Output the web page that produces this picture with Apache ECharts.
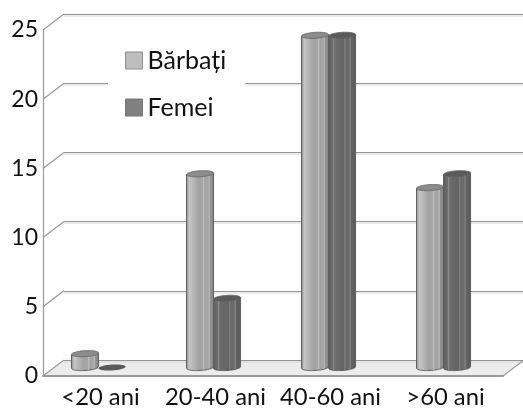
<!DOCTYPE html>
<html><head><meta charset="utf-8">
<style>html,body{margin:0;padding:0;background:#fff}#c{width:523px;height:410px}</style>
<script src="https://cdn.jsdelivr.net/npm/echarts@6/dist/echarts.min.js"></script>
</head><body><div id="c"></div>
<script>
const categories = ['<20 ani','20-40 ani','40-60 ani','>60 ani'];
const barbati = [1,14,24,13];
const femei = [0,5,24,14];
const ticks = [0,5,10,15,20,25];
const DX = 21, DY = -16;
const FONT = 'Lato, "Open Sans", sans-serif';
const chart = echarts.init(document.getElementById('c'), null, {renderer:'canvas'});

function grad(stops){
  return {type:'linear',x:0,y:0,x2:1,y2:0,colorStops:stops.map(s=>({offset:s[0],color:s[1]}))};
}
const menGrad = grad([[0,'#8e8e8e'],[.12,'#c6c6c6'],[.45,'#a2a2a2'],[.6,'#a6a6a6'],[.63,'#c2c2c2'],[.67,'#a2a2a2'],[.8,'#a8a8a8'],[.83,'#bcbcbc'],[.87,'#929292'],[1,'#868686']]);
const womenGrad = grad([[0,'#5c5c5c'],[.16,'#6e6e6e'],[.2,'#8e8e8e'],[.24,'#6c6c6c'],[.55,'#646464'],[.6,'#808080'],[.64,'#666666'],[.76,'#6e6e6e'],[.79,'#8c8c8c'],[.83,'#626262'],[1,'#5a5a5a']]);

function ellipsePts(cx,cy,rx,ry,tilt,from,to){
  const pts=[],n=36;
  for(let i=0;i<=n;i++){
    const a=from+(to-from)*i/n;
    const ex=rx*Math.cos(a), ey=ry*Math.sin(a);
    pts.push([cx+ex, cy+ey+tilt*ex/rx]);
  }
  return pts;
}
function cylinder(which, fill, topFill){
  return function(params, api){
    const cat=api.value(0), v=api.value(1);
    const band=api.size([1,0])[0];
    const w=band*0.2348;
    const c=api.coord([cat,0]);
    const top=api.coord([cat,v]);
    const cx=c[0]-band*0.017+(which===0?-w/2:w/2);
    const yb=c[1]-8.5, yt=top[1]-8.5;
    const rx=w/2, ry=3, tilt=-0.8;
    const children=[];
    if(v>0){
      const body=ellipsePts(cx,yt,rx,0,tilt,Math.PI,0).concat(ellipsePts(cx,yb,rx,ry,tilt,0,Math.PI));
      children.push({type:'polygon',shape:{points:body},style:{fill:fill,stroke:'#5f5f5f',lineWidth:1}});
    }
    children.push({type:'polygon',shape:{points:ellipsePts(cx,yt,rx,ry,tilt,0,Math.PI*2)},style:{fill:topFill,stroke:'#666',lineWidth:v>0?0.8:0}});
    return {type:'group',children};
  };
}
const wallStyle={stroke:'#9a9a9a',lineWidth:1.2};
const option={
  animation:false,
  backgroundColor:'#fff',
  grid:[
    {left:43,right:20,top:30,bottom:34},
    {left:43+DX,right:0,top:30+DY,bottom:34-DY}
  ],
  xAxis:[
    {type:'category',gridIndex:0,data:categories,axisTick:{show:false},
     axisLine:{lineStyle:{color:'#9a9a9a',width:2}},
     axisLabel:{color:'#111',fontFamily:FONT,fontSize:23.8,margin:9,interval:0}},
    {type:'category',gridIndex:1,data:categories,show:false}
  ],
  yAxis:[
    {type:'value',gridIndex:0,min:0,max:25,interval:5,splitLine:{show:false},axisTick:{show:false},
     axisLine:{show:true,lineStyle:{color:'#9a9a9a',width:1.2}},
     axisLabel:{color:'#111',fontFamily:FONT,fontSize:23,margin:5}},
    {type:'value',gridIndex:1,min:0,max:25,interval:5,axisLabel:{show:false},axisTick:{show:false},axisLine:{show:false},
     splitLine:{show:true,lineStyle:{color:'#969696',width:1.2,shadowColor:'#d8d8d8',shadowOffsetY:1.5,shadowBlur:0}}}
  ],
  legend:{
    orient:'vertical',left:108,top:43,itemWidth:17,itemHeight:17,itemGap:22,icon:'rect',
    padding:[5,19,14,17],backgroundColor:'#fff',
    data:[
      {name:'Bărbați',itemStyle:{color:'#bdbdbd',borderColor:'#8f8f8f',borderWidth:1}},
      {name:'Femei',itemStyle:{color:'#808080',borderColor:'#777',borderWidth:1}}
    ],
    textStyle:{color:'#111',fontFamily:FONT,fontSize:25,padding:[0,0,0,0]}
  },
  series:[
    {type:'custom',name:'floor',silent:true,z:-1,xAxisIndex:0,yAxisIndex:0,data:[[0,0]],
     renderItem(p,api){
       const band=api.size([1,0])[0];
       const a=api.coord([0,0]), b=api.coord([categories.length-1,0]);
       const l=a[0]-band/2, r=b[0]+band/2, y=a[1];
       return {type:'polygon',shape:{points:[[l,y],[r,y],[r+DX,y+DY],[l+DX,y+DY]]},style:{fill:'#ececec',stroke:null}};
     }},
    {type:'custom',name:'walls',silent:true,z:1,xAxisIndex:0,yAxisIndex:0,data:ticks.map(t=>[0,t]),
     renderItem(p,api){
       const band=api.size([1,0])[0];
       const a=api.coord([0,api.value(1)]);
       const l=a[0]-band/2;
       const kids=[{type:'line',shape:{x1:l,y1:a[1],x2:l+DX,y2:a[1]+DY},style:wallStyle}];
       if(api.value(1)===0){
         const b=api.coord([categories.length-1,0]);
         const r=b[0]+band/2;
         kids.push({type:'line',shape:{x1:r,y1:b[1],x2:r+DX,y2:b[1]+DY},style:wallStyle});
       }
       return {type:'group',children:kids};
     }},
    {type:'custom',name:'Bărbați',z:3,xAxisIndex:0,yAxisIndex:0,itemStyle:{color:'#bdbdbd'},
     data:barbati.map((v,i)=>[i,v]),renderItem:cylinder(0,menGrad,'#8c8c8c')},
    {type:'custom',name:'Femei',z:4,xAxisIndex:0,yAxisIndex:0,itemStyle:{color:'#808080'},
     data:femei.map((v,i)=>[i,v]),renderItem:cylinder(1,womenGrad,'#5a5a5a')}
  ]
};
chart.setOption(option);
</script></body></html>
